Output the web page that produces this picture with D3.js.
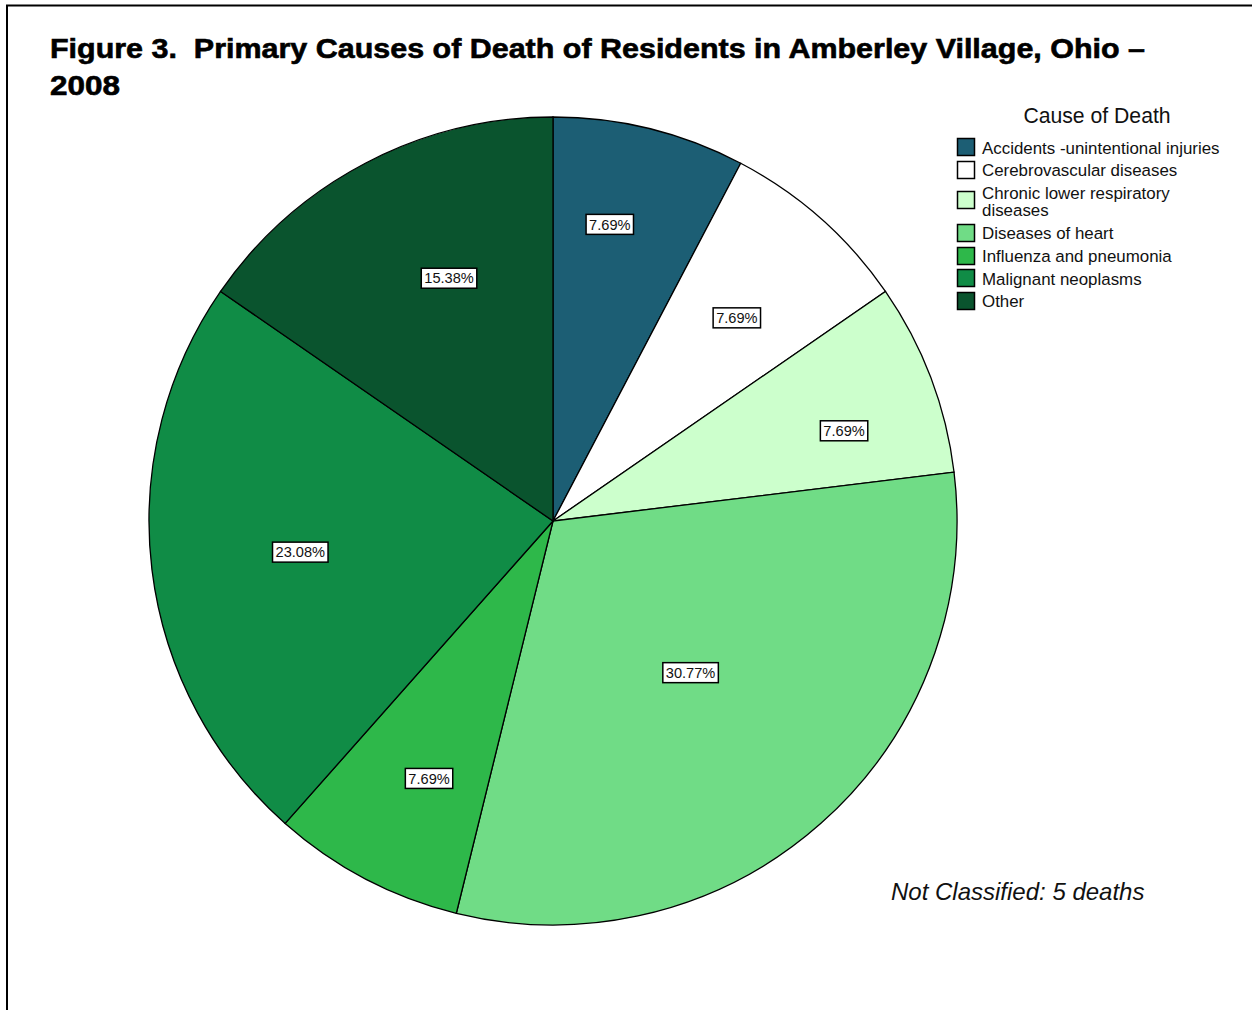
<!DOCTYPE html>
<html><head><meta charset="utf-8">
<script src="https://cdn.jsdelivr.net/npm/d3@7"></script>
<style>body{margin:0;background:#fff}svg{display:block}</style>
</head><body>
<script>
const categories = ["Accidents -unintentional injuries","Cerebrovascular diseases","Chronic lower respiratory diseases","Diseases of heart","Influenza and pneumonia","Malignant neoplasms","Other"];
const legendLines = [["Accidents -unintentional injuries"],["Cerebrovascular diseases"],["Chronic lower respiratory","diseases"],["Diseases of heart"],["Influenza and pneumonia"],["Malignant neoplasms"],["Other"]];
const values = [7.69, 7.69, 7.69, 30.77, 7.69, 23.08, 15.38];
const colors = ["#1c5e74","#ffffff","#ccffcc","#70dc86","#2eb84a","#108c46","#0a542e"];
// label placement (angle in degrees clockwise from 12 o'clock, radius fraction)
const labelAngles = [10.8, 42, 72.6, 137.6, 205.8, 263.2, 336.9];
const labelRadii = [0.75, 0.68, 0.755, 0.505, 0.705, 0.63, 0.656];

const W = 1252, H = 1010;
const svg = d3.select("body").append("svg").attr("width", W).attr("height", H);

// frame
svg.append("line").attr("x1",6).attr("y1",5.5).attr("x2",W).attr("y2",5.5).attr("stroke","#000").attr("stroke-width",2);
svg.append("line").attr("x1",7).attr("y1",5).attr("x2",7).attr("y2",H).attr("stroke","#000").attr("stroke-width",2);

// title
const tf = "'Liberation Sans', Arial, sans-serif";
svg.append("text").attr("x",50).attr("y",58).attr("font-family",tf).attr("font-weight","bold")
  .attr("font-size",27).attr("textLength",1095).attr("lengthAdjust","spacingAndGlyphs")
  .attr("stroke","#000").attr("stroke-width",0.6)
  .style("white-space","pre").text("Figure 3.  Primary Causes of Death of Residents in Amberley Village, Ohio –");
svg.append("text").attr("x",50).attr("y",95).attr("font-family",tf).attr("font-weight","bold")
  .attr("font-size",27).attr("textLength",70).attr("lengthAdjust","spacingAndGlyphs")
  .attr("stroke","#000").attr("stroke-width",0.6).text("2008");

// pie
const cx = 553, cy = 521, R = 404;
const pie = d3.pie().sort(null).value(d=>d)(values);
const arc = d3.arc().innerRadius(0).outerRadius(R);
const g = svg.append("g").attr("transform",`translate(${cx},${cy})`);
g.selectAll("path").data(pie).join("path")
  .attr("d",arc).attr("fill",(d,i)=>colors[i]).attr("stroke","#000").attr("stroke-width",1.3);

const fmt = v => v.toFixed(2) + "%";
pie.forEach((d,i)=>{
  const a = labelAngles[i]*Math.PI/180, r = labelRadii[i]*R;
  const x = r*Math.sin(a), y = -r*Math.cos(a);
  const lg = g.append("g").attr("transform",`translate(${x},${y+1})`);
  const t = lg.append("text").attr("text-anchor","middle").attr("dy","0.36em")
    .attr("font-family",tf).attr("font-size",14.6).attr("fill","#111").text(fmt(values[i]));
  const bb = t.node().getBBox();
  lg.insert("rect","text").attr("x",bb.x-3).attr("y",-10).attr("width",bb.width+6).attr("height",20)
    .attr("fill","#fff").attr("stroke","#000").attr("stroke-width",1.5);
});

// legend
svg.append("text").attr("x",1097).attr("y",123).attr("text-anchor","middle")
  .attr("font-family",tf).attr("font-size",21.2).attr("fill","#111").text("Cause of Death");
const swY = [138, 161, 191, 224, 247, 269, 292];
const txY = [[154],[176],[199,216],[239],[262],[285],[307]];
categories.forEach((c,i)=>{
  svg.append("rect").attr("x",957.5).attr("y",swY[i]+0.5).attr("width",17).attr("height",17)
    .attr("fill",colors[i]).attr("stroke","#000").attr("stroke-width",1.5);
  legendLines[i].forEach((ln,j)=>{
    svg.append("text").attr("x",982).attr("y",txY[i][j]).attr("font-family",tf).attr("font-size",16.9)
      .attr("fill","#111").text(ln);
  });
});

// note
svg.append("text").attr("x",891).attr("y",900).attr("font-family",tf).attr("font-style","italic")
  .attr("font-size",24).attr("fill","#111").text("Not Classified: 5 deaths");
</script>
</body></html>
